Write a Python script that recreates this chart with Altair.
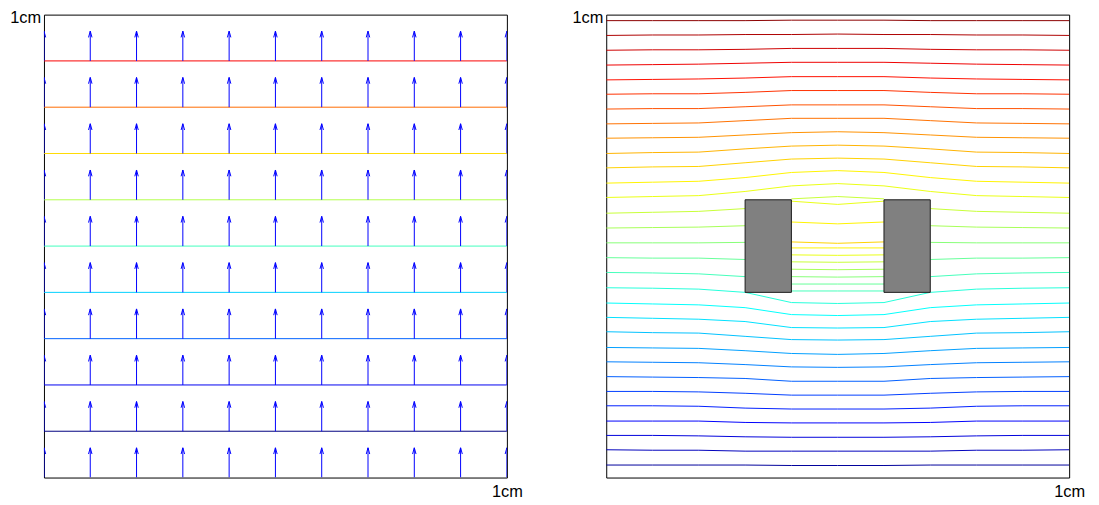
import altair as alt
import pandas as pd

# ---------------- data: left panel (uniform field) ----------------
left_levels = [0.1, 0.2, 0.3, 0.4, 0.5, 0.6, 0.7, 0.8, 0.9]
arrow_x = [0.0, 0.1, 0.2, 0.3, 0.4, 0.5, 0.6, 0.7, 0.8, 0.9, 1.0]
arrow_y = [0.0, 0.1, 0.2, 0.3, 0.4, 0.5, 0.6, 0.7, 0.8, 0.9]
arrow_u = 0.0
arrow_v = 1.0
arrow_scale = 0.064

# ---------------- data: right panel (two blocks) ----------------
contour_x = [0.0, 0.1, 0.2, 0.3, 0.4, 0.5, 0.6, 0.7, 0.8, 0.9, 1.0]
N = None
contour_levels = [
    0.987, 0.955, 0.923, 0.891, 0.859, 0.828, 0.796, 0.764, 0.733, 0.700,
    0.669, 0.636, 0.605, 0.571, 0.539, 0.507, 0.475, 0.443, 0.410, 0.377,
    0.346, 0.315, 0.281, 0.250, 0.218, 0.186, 0.155, 0.122, 0.091, 0.060,
    0.027,
    # lines in the gap between the blocks
    0.571, 0.604, 0.636, 0.668, 0.636, 0.604, 0.571, 0.539, 0.507, 0.475, 0.443,
]
contour_y = [
    [0.987, 0.987, 0.987, 0.987, 0.988, 0.988, 0.988, 0.987, 0.987, 0.987, 0.987],
    [0.955, 0.956, 0.956, 0.957, 0.957, 0.958, 0.957, 0.957, 0.956, 0.956, 0.955],
    [0.923, 0.924, 0.924, 0.925, 0.927, 0.927, 0.927, 0.925, 0.924, 0.924, 0.923],
    [0.891, 0.892, 0.893, 0.895, 0.897, 0.897, 0.897, 0.895, 0.893, 0.892, 0.891],
    [0.859, 0.860, 0.861, 0.863, 0.866, 0.866, 0.866, 0.863, 0.861, 0.860, 0.859],
    [0.828, 0.829, 0.829, 0.832, 0.836, 0.836, 0.836, 0.832, 0.829, 0.829, 0.828],
    [0.796, 0.797, 0.797, 0.801, 0.805, 0.805, 0.805, 0.801, 0.797, 0.797, 0.796],
    [0.764, 0.765, 0.766, 0.771, 0.776, 0.776, 0.776, 0.771, 0.766, 0.765, 0.764],
    [0.733, 0.734, 0.735, 0.740, 0.745, 0.747, 0.745, 0.740, 0.735, 0.734, 0.733],
    [0.700, 0.702, 0.703, 0.710, 0.716, 0.718, 0.716, 0.710, 0.703, 0.702, 0.700],
    [0.669, 0.671, 0.672, 0.680, 0.688, 0.690, 0.688, 0.680, 0.672, 0.671, 0.669],
    [0.636, 0.638, 0.640, 0.648, 0.659, 0.663, 0.659, 0.648, 0.640, 0.638, 0.636],
    [0.605, 0.607, 0.609, 0.618, 0.630, 0.635, 0.630, 0.618, 0.609, 0.607, 0.605],
    [0.571, 0.573, 0.575, 0.581, N, N, N, 0.581, 0.575, 0.573, 0.571],
    [0.539, 0.540, 0.541, 0.544, N, N, N, 0.544, 0.541, 0.540, 0.539],
    [0.507, 0.507, 0.507, 0.508, N, N, N, 0.508, 0.507, 0.507, 0.507],
    [0.475, 0.474, 0.474, 0.471, N, N, N, 0.471, 0.474, 0.474, 0.475],
    [0.443, 0.442, 0.440, 0.434, N, N, N, 0.434, 0.440, 0.442, 0.443],
    [0.410, 0.409, 0.407, 0.400, 0.378, 0.376, 0.378, 0.400, 0.407, 0.409, 0.410],
    [0.377, 0.375, 0.373, 0.367, 0.352, 0.350, 0.352, 0.367, 0.373, 0.375, 0.377],
    [0.346, 0.344, 0.342, 0.337, 0.324, 0.323, 0.324, 0.337, 0.342, 0.344, 0.346],
    [0.315, 0.313, 0.312, 0.305, 0.298, 0.297, 0.298, 0.305, 0.312, 0.313, 0.315],
    [0.281, 0.280, 0.279, 0.274, 0.268, 0.266, 0.268, 0.274, 0.279, 0.280, 0.281],
    [0.250, 0.249, 0.248, 0.244, 0.239, 0.238, 0.239, 0.244, 0.248, 0.249, 0.250],
    [0.218, 0.217, 0.216, 0.214, 0.208, 0.208, 0.208, 0.214, 0.216, 0.217, 0.218],
    [0.186, 0.186, 0.185, 0.182, 0.178, 0.178, 0.178, 0.182, 0.185, 0.186, 0.186],
    [0.155, 0.155, 0.154, 0.150, 0.148, 0.148, 0.148, 0.150, 0.154, 0.155, 0.155],
    [0.122, 0.122, 0.122, 0.119, 0.118, 0.118, 0.118, 0.119, 0.122, 0.122, 0.122],
    [0.091, 0.091, 0.090, 0.088, 0.087, 0.087, 0.087, 0.088, 0.090, 0.091, 0.091],
    [0.060, 0.059, 0.059, 0.057, 0.057, 0.057, 0.057, 0.057, 0.059, 0.059, 0.060],
    [0.027, 0.027, 0.027, 0.027, 0.026, 0.026, 0.026, 0.027, 0.027, 0.027, 0.027],
    [N, N, N, N, 0.602, 0.607, 0.602, N, N, N, N],
    [N, N, N, N, 0.597, 0.590, 0.597, N, N, N, N],
    [N, N, N, N, 0.552, 0.548, 0.552, N, N, N, N],
    [N, N, N, N, 0.509, 0.506, 0.509, N, N, N, N],
    [N, N, N, N, 0.496, 0.496, 0.496, N, N, N, N],
    [N, N, N, N, 0.481, 0.480, 0.481, N, N, N, N],
    [N, N, N, N, 0.466, 0.465, 0.466, N, N, N, N],
    [N, N, N, N, 0.450, 0.449, 0.450, N, N, N, N],
    [N, N, N, N, 0.434, 0.433, 0.434, N, N, N, N],
    [N, N, N, N, 0.418, 0.418, 0.418, N, N, N, N],
    [N, N, N, N, 0.403, 0.403, 0.403, N, N, N, N],
]
block_x0 = [0.3, 0.6]
block_x1 = [0.4, 0.7]
block_y0 = [0.4, 0.4]
block_y1 = [0.6, 0.6]

# ---------------- build tables ----------------
left_lines = pd.DataFrame({"level": left_levels})
arrows = pd.DataFrame(
    [{"x": ax, "y": ay, "x2": ax + arrow_u * arrow_scale, "y2": ay + arrow_v * arrow_scale}
     for ay in arrow_y for ax in arrow_x]
)

rows = []
seg = 0
for lev, ys_ in zip(contour_levels, contour_y):
    prev = None
    for k, (cx, cy) in enumerate(zip(contour_x, ys_)):
        if cy is None:
            prev = None
            continue
        if prev is None:
            seg += 1
        rows.append({"seg": seg, "order": k, "x": cx, "y": cy, "clevel": lev})
        prev = cy
contours = pd.DataFrame(rows)
blocks = pd.DataFrame({"x0": block_x0, "x1": block_x1, "y0": block_y0, "y1": block_y1})

JET = ["#00007f", "#0000ff", "#00ffff", "#ffff00", "#ff0000", "#7f0000"]
STOPS = [0, 0.125, 0.375, 0.625, 0.875, 1.0]


def jet_scale(lo, hi):
    return alt.Scale(domain=[lo + s * (hi - lo) for s in STOPS], range=JET, interpolate="rgb")


FONT = "Liberation Sans"
FS = 16.5
xaxis = alt.Axis(values=[1], labelExpr="'1cm'", ticks=False, domain=False, grid=False,
                 title=None, labelFlush=False, labelFont=FONT, labelFontSize=FS,
                 labelColor="black", labelPadding=6.5, labelAlign="center")
yaxis = alt.Axis(values=[1], labelExpr="'1cm'", ticks=False, domain=False, grid=False,
                 title=None, labelFont=FONT, labelFontSize=FS, labelColor="black",
                 labelPadding=3.3, labelBaseline="top", labelOffset=-5.3)
xs = alt.Scale(domain=[0, 1], nice=False, zero=False)
ys = alt.Scale(domain=[0, 1], nice=False, zero=False)

W = 466
H = 466

base_left = alt.Chart(left_lines).mark_rule(strokeWidth=1, clip=True).encode(
    x=alt.value(0), x2=alt.value(W),
    y=alt.Y("level:Q", scale=ys, axis=yaxis),
    color=alt.Color("level:Q", scale=jet_scale(0.1, 1.009), legend=None),
)
shafts = alt.Chart(arrows).mark_rule(color="#0000ff", strokeWidth=1, clip=True).encode(
    x=alt.X("x:Q", scale=xs, axis=xaxis), y=alt.Y("y:Q", scale=ys), y2="y2:Q",
)
heads = alt.Chart(arrows).mark_point(
    shape="M -0.55 1 L 0 -1 L 0.55 1", filled=False, color="#0000ff", strokeWidth=1,
    size=40, yOffset=3, opacity=1, clip=True,
).encode(x=alt.X("x2:Q", scale=xs), y=alt.Y("y2:Q", scale=ys))
left = alt.layer(base_left, shafts, heads).properties(width=W, height=H)

clines = alt.Chart(contours).mark_line(strokeWidth=1, clip=True).encode(
    x=alt.X("x:Q", scale=xs, axis=xaxis),
    y=alt.Y("y:Q", scale=ys, axis=yaxis),
    detail="seg:N",
    order="order:Q",
    color=alt.Color("clevel:Q", scale=jet_scale(0.0, 1.0), legend=None),
)
rects = alt.Chart(blocks).mark_rect(fill="#808080", stroke="#1a1a1a", strokeWidth=1).encode(
    x=alt.X("x0:Q", scale=xs), x2="x1:Q", y=alt.Y("y0:Q", scale=ys), y2="y1:Q",
)
right = alt.layer(clines, rects).properties(width=W, height=H)

chart = alt.hconcat(left, right, spacing=100, bounds="flush").properties(
    padding={"left": 1.2, "top": -1, "right": 5, "bottom": 5}
).configure_view(stroke="black", strokeWidth=1).resolve_scale(color="independent")

chart.save("out.html", embed_options={"renderer": "svg", "actions": False})
